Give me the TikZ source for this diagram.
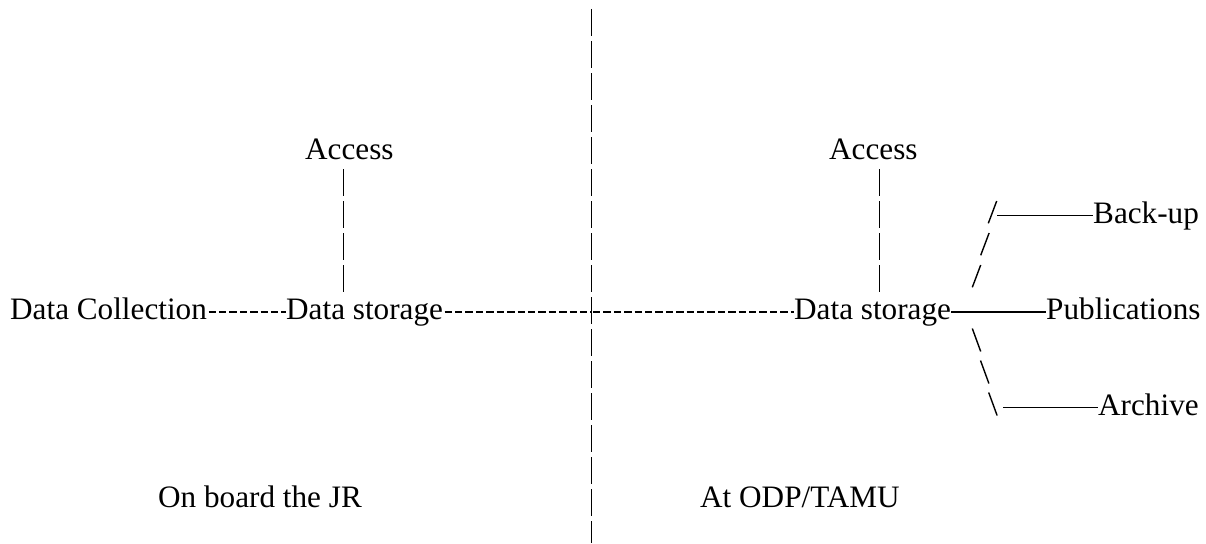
\documentclass[tikz,border=0pt]{standalone}
\usepackage{fontspec}
\setmainfont{Liberation Serif}
\begin{document}
\begin{tikzpicture}[x=1pt,y=-1pt,
  lbl/.style={inner sep=0pt, anchor=base west, font=\fontsize{31.2}{32}\selectfont},
  hy/.style={line width=2.2pt, dash pattern=on 0pt off 1.5pt on 7.4pt off 1.5pt},
  bar/.style={line width=1.6pt, dash pattern=on 27.3pt off 4.7pt},
  em/.style={line width=1.5pt},
  sl/.style={line width=1.4pt}]
\useasboundingbox (0,0) rectangle (1206,543);
% texts
\node[lbl] (accL) at (305,159) {Access};
\node[lbl] (accR) at (829,159) {Access};
\node[lbl] (coll) at (10,319) {Data Collection};
\node[lbl] (stoL) at (286,319) {Data storage};
\node[lbl] (stoR) at (794,319) {Data storage};
\node[lbl] (pub) at (1046,319) {Publications};
\node[lbl] (back) at (1093,223) {Back-up};
\node[lbl] (arch) at (1098,415) {Archive};
\node[lbl] (onb) at (158,507) {On board the JR};
\node[lbl] (odp) at (700,507) {At ODP/TAMU};
% divider
\coordinate (divT) at (591.5,9);
\coordinate (divB) at (591.5,543);
\coordinate (mid) at (591.5,312);
\draw[bar] (divT) -- (divB);
% access bars
\coordinate (aLt) at (343.3,169);
\coordinate (aLb) at (343.3,292.3);
\coordinate (aRt) at (879.3,169);
\coordinate (aRb) at (879.3,292.3);
\draw[bar] (aLt) -- (aLb);
\draw[bar] (aRt) -- (aRb);
% main row
\draw[hy] ([yshift=7pt]coll.base east) -- ([yshift=7pt]stoL.base west);
\draw[hy] ([yshift=7pt]stoL.base east) -- (mid);
\draw[hy] (mid) -- ([yshift=7pt]stoR.base west);
\draw[em] ([yshift=7pt]stoR.base east) -- ([yshift=7pt]pub.base west);
% branches
\coordinate (bk) at (997.3,215.5);
\coordinate (ar) at (1003.3,407.5);
\draw[em] (bk) -- ([yshift=7.5pt]back.base west);
\draw[em] (ar) -- ([yshift=7.5pt]arch.base west);
\draw[sl] (988.3,223.3) -- (996.7,201);
\draw[sl] (980.7,255.3) -- (989.1,233);
\draw[sl] (972.3,287.3) -- (980.7,265);
\draw[sl] (972.3,328.5) -- (980.7,351.5);
\draw[sl] (980.5,360.5) -- (988.9,383.5);
\draw[sl] (988.7,392.5) -- (997.1,415.5);
\end{tikzpicture}
\end{document}
